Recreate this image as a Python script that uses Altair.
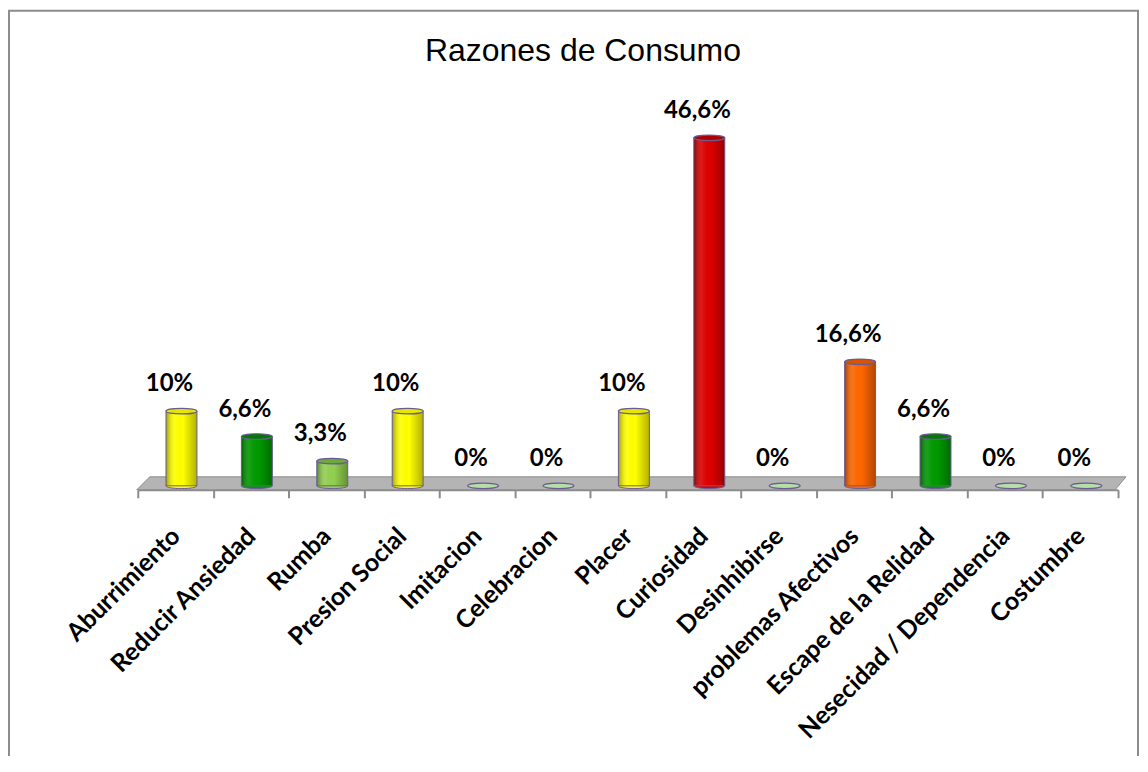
import altair as alt
import pandas as pd

# ---- data ----
categories = ["Aburrimiento", "Reducir Ansiedad", "Rumba", "Presion Social", "Imitacion",
              "Celebracion", "Placer", "Curiosidad", "Desinhibirse", "problemas Afectivos",
              "Escape de la Relidad", "Nesecidad / Dependencia", "Costumbre"]
values = [10, 6.6, 3.3, 10, 0, 0, 10, 46.6, 0, 16.6, 6.6, 0, 0]
labels = ["10%", "6,6%", "3,3%", "10%", "0%", "0%", "10%", "46,6%", "0%", "16,6%", "6,6%", "0%", "0%"]

# colours per category (body / top cap)
body_colors = ["#FFFF00", "#009A00", "#92D050", "#FFFF00", "#B5DFA5", "#B5DFA5", "#FFFF00",
               "#DD0000", "#B5DFA5", "#FF6600", "#009A00", "#B5DFA5", "#B5DFA5"]
top_colors = ["#E6E600", "#007A00", "#6FA83C", "#E6E600", "#B5DFA5", "#B5DFA5", "#E6E600",
              "#B00000", "#B5DFA5", "#D85500", "#007A00", "#B5DFA5", "#B5DFA5"]

df = pd.DataFrame({"cat": categories, "val": values, "label": labels})

W, H = 982, 374
OUTLINE = "#6B5B95"
ELLIPSE = "M -1 0 A 1 0.18 0 1 1 1 0 A 1 0.18 0 1 1 -1 0 Z"
# slanted floor plane, in unit symbol coordinates (scaled by sqrt(size)/2 = 500px)
FLOOR = "M -0.966 -0.013 L 0.99 -0.013 L 0.968 0.013 L -0.992 0.013 Z"
BAR_W = 31
SHIFT = 6  # bars sit slightly right of the band centre (3-D depth)

xaxis = alt.Axis(title=None, labelAngle=-45, labelFont="Lato", labelFontWeight="bold",
                 labelFontSize=25, labelColor="black", labelPadding=34, labelLimit=500,
                 labelAlign="right", labelBaseline="middle",
                 tickBand="extent", tickSize=8, tickColor="#8C8C8C", tickWidth=2,
                 domainColor="#8C8C8C", domainWidth=2, offset=4, grid=False)
xscale = alt.Scale(paddingInner=0, paddingOuter=0)
xenc = alt.X("cat:N", sort=categories, scale=xscale, axis=xaxis)
yscale = alt.Scale(domain=[0, 50], nice=False)
yenc = alt.Y("val:Q", scale=yscale, axis=None)
body_scale = alt.Scale(domain=categories, range=body_colors)
top_scale = alt.Scale(domain=categories, range=top_colors)

one = alt.Data(values=[{"a": 1}])

border = alt.Chart(one).mark_rect(fillOpacity=0, stroke="#8C8C8C", strokeWidth=2).encode(
    x=alt.value(-129), x2=alt.value(1002), y=alt.value(-102), y2=alt.value(H + 320))

floor = alt.Chart(one).mark_point(shape=FLOOR, size=1000000, filled=True, fill="#B4B4B4",
                                   opacity=1, stroke="#8C8C8C", strokeWidth=1).encode(
    x=alt.value(495), y=alt.value(H - 2.5))

title = alt.Chart(one).mark_text(text="Razones de Consumo", font="Liberation Sans", fontSize=32,
                                  align="center", baseline="alphabetic", color="black").encode(
    x=alt.value(446), y=alt.value(-52))

base = alt.Chart(df)

bottom_cap = base.transform_filter("datum.val > 0").transform_calculate(zero="0").mark_point(
    shape=ELLIPSE, size=BAR_W * BAR_W, filled=True, opacity=1, stroke=OUTLINE, strokeWidth=1,
    xOffset=SHIFT
).encode(x=xenc, y=alt.Y("zero:Q", scale=yscale, axis=None),
         fill=alt.Fill("cat:N", scale=body_scale, legend=None))

bars = base.transform_filter("datum.val > 0").mark_bar(size=BAR_W, xOffset=SHIFT).encode(
    x=xenc, y=yenc, color=alt.Color("cat:N", scale=body_scale, legend=None))

shade = alt.Gradient(
    gradient="linear", x1=0, x2=1, y1=0, y2=0,
    stops=[alt.GradientStop(color="rgba(0,0,0,0.38)", offset=0),
           alt.GradientStop(color="rgba(255,255,255,0.06)", offset=0.3),
           alt.GradientStop(color="rgba(0,0,0,0.0)", offset=0.55),
           alt.GradientStop(color="rgba(0,0,0,0.30)", offset=1)])

overlay = base.transform_filter("datum.val > 0").mark_bar(
    size=BAR_W, fill=shade, stroke=OUTLINE, strokeWidth=1, xOffset=SHIFT).encode(x=xenc, y=yenc)

top_cap = base.mark_point(
    shape=ELLIPSE, size=BAR_W * BAR_W, filled=True, opacity=1, stroke=OUTLINE, strokeWidth=1.2,
    xOffset=SHIFT
).encode(x=xenc, y=yenc, fill=alt.Fill("cat:N", scale=top_scale, legend=None))

text = base.mark_text(font="Lato", fontSize=24, fontWeight="bold", color="black",
                      baseline="alphabetic", align="center", dy=-20, dx=-6).encode(
    x=xenc, y=yenc, text="label:N")

chart = alt.layer(border, floor, title, bottom_cap, bars, overlay, top_cap, text).resolve_scale(
    fill="independent"
).properties(
    width=W, height=H,
    autosize=alt.AutoSizeParams(type="none"),
    padding={"left": 130, "top": 104, "right": 22, "bottom": 270},
    background="white",
).configure_view(stroke=None)

chart.save("out.html", embed_options={"renderer": "svg", "actions": False})
